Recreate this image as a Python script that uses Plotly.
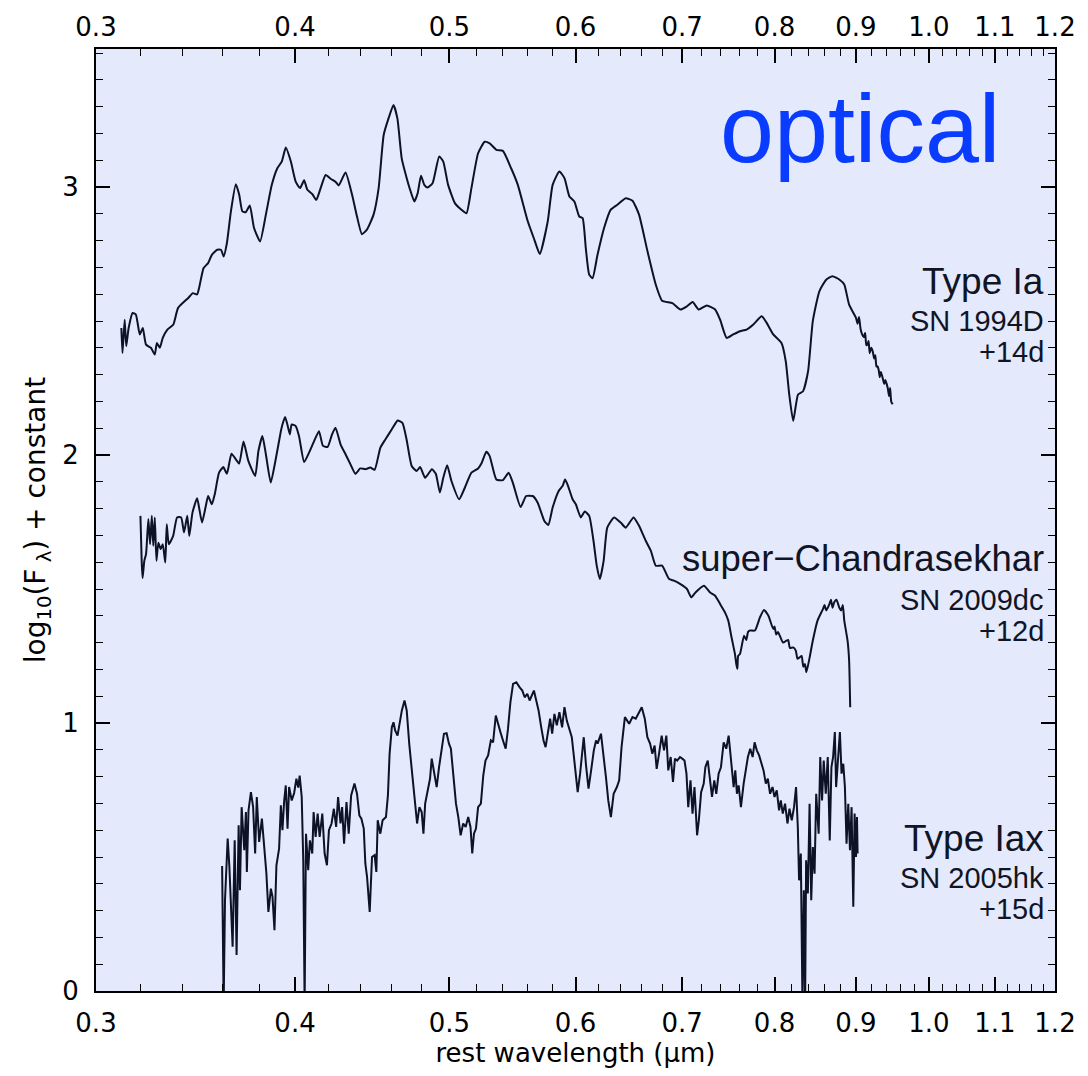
import math
import plotly.graph_objects as go

# ---- Type Ia, SN 1994D (+14d): rest wavelength (micron), log10 flux + offset ----
ia_wl = [0.3112, 0.3117, 0.3127, 0.3134, 0.3145, 0.3163, 0.3178, 0.3196, 0.3210, 0.3225,
         0.3248, 0.3266, 0.3276, 0.3290, 0.3304, 0.3326, 0.3355, 0.3378, 0.3428, 0.3451,
         0.3472, 0.3482, 0.3505, 0.3528, 0.3547, 0.3575, 0.3594, 0.3608, 0.3625, 0.3646,
         0.3672, 0.3690, 0.3707, 0.3725, 0.3747, 0.3770, 0.3803, 0.3835, 0.3868, 0.3899,
         0.3924, 0.3947, 0.3976, 0.4004, 0.4029, 0.4053, 0.4072, 0.4102, 0.4125, 0.4151,
         0.4181, 0.4211, 0.4241, 0.4261, 0.4303, 0.4344, 0.4375, 0.4406, 0.4438, 0.4481,
         0.4514, 0.4547, 0.4579, 0.4612, 0.4638, 0.4667, 0.4701, 0.4724, 0.4753, 0.4776,
         0.4799, 0.4822, 0.4845, 0.4880, 0.4927, 0.4956, 0.4991, 0.5040, 0.5088, 0.5125,
         0.5162, 0.5212, 0.5262, 0.5300, 0.5351, 0.5402, 0.5467, 0.5520, 0.5600, 0.5654,
         0.5698, 0.5764, 0.5805, 0.5862, 0.5905, 0.5947, 0.5990, 0.6033, 0.6062, 0.6090,
         0.6120, 0.6150, 0.6194, 0.6253, 0.6312, 0.6374, 0.6452, 0.6515, 0.6577, 0.6658,
         0.6738, 0.6800, 0.6902, 0.6983, 0.7049, 0.7107, 0.7169, 0.7255, 0.7342, 0.7395,
         0.7465, 0.7537, 0.7611, 0.7684, 0.7759, 0.7853, 0.7910, 0.7985, 0.8081, 0.8131,
         0.8172, 0.8219, 0.8277, 0.8337, 0.8398, 0.8455, 0.8536, 0.8620, 0.8698, 0.8789,
         0.8849, 0.8911, 0.9001, 0.9020, 0.9040, 0.9060, 0.9080, 0.9100, 0.9120, 0.9135,
         0.9149, 0.9165, 0.9180, 0.9200, 0.9220, 0.9240, 0.9255, 0.9270, 0.9285, 0.9300,
         0.9315, 0.9330, 0.9353, 0.9375, 0.9390, 0.9422, 0.9440, 0.9455, 0.9470, 0.9490]
ia_flux = [2.474, 2.381, 2.505, 2.406, 2.474, 2.530, 2.524, 2.450, 2.474, 2.412,
           2.400, 2.375, 2.418, 2.400, 2.437, 2.468, 2.487, 2.549, 2.586, 2.604,
           2.599, 2.623, 2.698, 2.716, 2.747, 2.766, 2.766, 2.741, 2.791, 2.909,
           3.010, 2.971, 2.909, 2.906, 2.931, 2.847, 2.797, 2.897, 3.008, 3.070,
           3.095, 3.147, 3.095, 3.020, 2.996, 3.025, 2.990, 2.973, 2.952, 2.996,
           3.045, 3.031, 3.020, 3.006, 3.054, 2.971, 2.890, 2.824, 2.841, 2.897,
           2.996, 3.194, 3.256, 3.306, 3.256, 3.107, 3.033, 2.990, 2.946, 2.977,
           3.042, 3.008, 2.998, 3.014, 3.114, 3.095, 3.008, 2.940, 2.915, 2.902,
           2.996, 3.126, 3.169, 3.163, 3.139, 3.135, 3.070, 3.008, 2.872, 2.803,
           2.750, 2.872, 3.008, 3.058, 3.033, 2.965, 2.946, 2.890, 2.884, 2.772,
           2.673, 2.660, 2.747, 2.847, 2.915, 2.934, 2.958, 2.949, 2.897, 2.760,
           2.636, 2.576, 2.567, 2.543, 2.555, 2.571, 2.543, 2.558, 2.543, 2.505,
           2.437, 2.450, 2.462, 2.468, 2.487, 2.518, 2.493, 2.450, 2.418, 2.350,
           2.226, 2.127, 2.226, 2.238, 2.313, 2.499, 2.611, 2.654, 2.667, 2.654,
           2.636, 2.561, 2.511, 2.490, 2.515, 2.470, 2.450, 2.440, 2.455, 2.410,
           2.412, 2.425, 2.380, 2.400, 2.387, 2.360, 2.372, 2.330, 2.331, 2.318,
           2.290, 2.310, 2.288, 2.265, 2.280, 2.251, 2.220, 2.250, 2.200, 2.189]

# ---- super-Chandrasekhar, SN 2009dc (+12d) ----
sc_wl = [0.3199, 0.3205, 0.3209, 0.3217, 0.3225, 0.3236, 0.3244, 0.3252, 0.3259, 0.3266,
         0.3274, 0.3283, 0.3294, 0.3304, 0.3316, 0.3323, 0.3333, 0.3354, 0.3373, 0.3393,
         0.3407, 0.3423, 0.3433, 0.3449, 0.3472, 0.3482, 0.3497, 0.3515, 0.3528, 0.3547,
         0.3562, 0.3584, 0.3606, 0.3625, 0.3649, 0.3672, 0.3690, 0.3713, 0.3739, 0.3776,
         0.3794, 0.3816, 0.3835, 0.3862, 0.3890, 0.3919, 0.3928, 0.3943, 0.3956, 0.3970,
         0.3981, 0.4004, 0.4023, 0.4053, 0.4082, 0.4112, 0.4141, 0.4165, 0.4193, 0.4220,
         0.4241, 0.4272, 0.4303, 0.4334, 0.4365, 0.4396, 0.4428, 0.4460, 0.4488, 0.4525,
         0.4558, 0.4601, 0.4640, 0.4672, 0.4700, 0.4735, 0.4769, 0.4793, 0.4828, 0.4875,
         0.4903, 0.4932, 0.4956, 0.4984, 0.5015, 0.5071, 0.5113, 0.5162, 0.5212, 0.5237,
         0.5274, 0.5300, 0.5351, 0.5402, 0.5447, 0.5480, 0.5542, 0.5587, 0.5640, 0.5681,
         0.5736, 0.5769, 0.5805, 0.5856, 0.5890, 0.5910, 0.5933, 0.5975, 0.6003, 0.6046,
         0.6081, 0.6120, 0.6158, 0.6187, 0.6215, 0.6249, 0.6282, 0.6344, 0.6405, 0.6452,
         0.6525, 0.6577, 0.6641, 0.6691, 0.6738, 0.6800, 0.6869, 0.6918, 0.6983, 0.7049,
         0.7093, 0.7136, 0.7224, 0.7289, 0.7342, 0.7395, 0.7447, 0.7483, 0.7518, 0.7555,
         0.7570, 0.7582, 0.7590, 0.7611, 0.7655, 0.7680, 0.7700, 0.7721, 0.7777, 0.7833,
         0.7879, 0.7930, 0.7985, 0.8000, 0.8020, 0.8040, 0.8061, 0.8100, 0.8138, 0.8160,
         0.8180, 0.8219, 0.8250, 0.8270, 0.8296, 0.8320, 0.8340, 0.8360, 0.8377, 0.8417,
         0.8455, 0.8513, 0.8580, 0.8600, 0.8620, 0.8661, 0.8680, 0.8700, 0.8720, 0.8750,
         0.8785, 0.8810, 0.8830, 0.8849, 0.8891, 0.8911, 0.8925]
sc_flux = [1.773, 1.599, 1.541, 1.605, 1.630, 1.761, 1.667, 1.773, 1.661, 1.767,
           1.605, 1.673, 1.649, 1.667, 1.599, 1.742, 1.667, 1.698, 1.767, 1.767,
           1.711, 1.773, 1.698, 1.785, 1.839, 1.804, 1.748, 1.806, 1.847, 1.816,
           1.854, 1.934, 1.955, 1.930, 2.005, 1.984, 1.968, 2.050, 1.978, 1.922,
           2.015, 2.071, 2.003, 1.897, 1.984, 2.089, 2.114, 2.142, 2.114, 2.077,
           2.114, 2.108, 2.071, 1.974, 2.009, 2.052, 2.089, 2.034, 2.030, 2.077,
           2.102, 2.040, 2.003, 1.965, 1.930, 1.950, 1.947, 1.953, 1.945, 2.027,
           2.058, 2.096, 2.129, 2.120, 2.058, 1.959, 1.940, 1.955, 1.915, 1.947,
           1.930, 1.860, 1.915, 1.962, 1.903, 1.835, 1.878, 1.934, 1.950, 1.968,
           2.012, 1.996, 1.909, 1.906, 1.934, 1.897, 1.806, 1.847, 1.847, 1.822,
           1.754, 1.739, 1.804, 1.866, 1.885, 1.909, 1.888, 1.835, 1.816, 1.767,
           1.789, 1.773, 1.680, 1.587, 1.537, 1.605, 1.729, 1.767, 1.748, 1.729,
           1.767, 1.736, 1.680, 1.642, 1.587, 1.587, 1.537, 1.531, 1.518, 1.500,
           1.469, 1.487, 1.512, 1.487, 1.475, 1.444, 1.413, 1.382, 1.320, 1.258,
           1.220, 1.202, 1.250, 1.258, 1.326, 1.310, 1.340, 1.345, 1.345, 1.394,
           1.422, 1.400, 1.351, 1.360, 1.330, 1.340, 1.326, 1.300, 1.307, 1.310,
           1.280, 1.282, 1.270, 1.240, 1.245, 1.250, 1.210, 1.220, 1.189, 1.245,
           1.307, 1.382, 1.425, 1.440, 1.420, 1.444, 1.460, 1.430, 1.450, 1.460,
           1.431, 1.420, 1.440, 1.382, 1.307, 1.233, 1.059]

# ---- Type Iax, SN 2005hk (+15d) ----
iax_wl = [0.3600, 0.3608, 0.3615, 0.3629, 0.3638, 0.3655, 0.3666, 0.3676, 0.3687, 0.3694,
          0.3703, 0.3717, 0.3726, 0.3731, 0.3740, 0.3753, 0.3765, 0.3776, 0.3785, 0.3798,
          0.3813, 0.3826, 0.3838, 0.3849, 0.3863, 0.3872, 0.3883, 0.3894, 0.3909, 0.3919,
          0.3928, 0.3938, 0.3947, 0.3957, 0.3966, 0.3981, 0.3995, 0.4008, 0.4019, 0.4027,
          0.4039, 0.4048, 0.4056, 0.4064, 0.4077, 0.4087, 0.4101, 0.4109, 0.4121, 0.4133,
          0.4145, 0.4161, 0.4175, 0.4189, 0.4201, 0.4217, 0.4231, 0.4245, 0.4257, 0.4272,
          0.4282, 0.4294, 0.4309, 0.4323, 0.4338, 0.4359, 0.4375, 0.4390, 0.4403, 0.4418,
          0.4428, 0.4439, 0.4456, 0.4471, 0.4488, 0.4499, 0.4508, 0.4525, 0.4540, 0.4562,
          0.4575, 0.4586, 0.4601, 0.4612, 0.4623, 0.4639, 0.4652, 0.4668, 0.4686, 0.4701,
          0.4718, 0.4735, 0.4754, 0.4772, 0.4788, 0.4804, 0.4816, 0.4828, 0.4846, 0.4862,
          0.4874, 0.4893, 0.4909, 0.4926, 0.4944, 0.4961, 0.4980, 0.4997, 0.5011, 0.5028,
          0.5048, 0.5065, 0.5082, 0.5101, 0.5119, 0.5138, 0.5155, 0.5168, 0.5181, 0.5196,
          0.5212, 0.5233, 0.5251, 0.5268, 0.5288, 0.5309, 0.5326, 0.5347, 0.5365, 0.5383,
          0.5403, 0.5424, 0.5442, 0.5461, 0.5482, 0.5508, 0.5535, 0.5556, 0.5575, 0.5596,
          0.5615, 0.5634, 0.5650, 0.5669, 0.5688, 0.5710, 0.5729, 0.5746, 0.5765, 0.5784,
          0.5801, 0.5820, 0.5840, 0.5862, 0.5885, 0.5905, 0.5925, 0.5948, 0.5968, 0.5985,
          0.6005, 0.6019, 0.6040, 0.6057, 0.6072, 0.6092, 0.6114, 0.6137, 0.6161, 0.6181,
          0.6195, 0.6225, 0.6240, 0.6270, 0.6291, 0.6315, 0.6340, 0.6370, 0.6391, 0.6413,
          0.6444, 0.6484, 0.6515, 0.6546, 0.6578, 0.6603, 0.6632, 0.6657, 0.6683, 0.6705,
          0.6727, 0.6747, 0.6770, 0.6796, 0.6819, 0.6842, 0.6861, 0.6885, 0.6908, 0.6928,
          0.6950, 0.6978, 0.7001, 0.7024, 0.7044, 0.7062, 0.7085, 0.7106, 0.7126, 0.7153,
          0.7171, 0.7195, 0.7222, 0.7239, 0.7264, 0.7285, 0.7309, 0.7333, 0.7354, 0.7379,
          0.7404, 0.7433, 0.7461, 0.7487, 0.7504, 0.7523, 0.7541, 0.7559, 0.7577, 0.7596,
          0.7621, 0.7651, 0.7676, 0.7698, 0.7724, 0.7751, 0.7773, 0.7798, 0.7824, 0.7847,
          0.7874, 0.7900, 0.7923, 0.7949, 0.7977, 0.8000, 0.8026, 0.8053, 0.8073, 0.8096,
          0.8123, 0.8151, 0.8175, 0.8202, 0.8229, 0.8253, 0.8274, 0.8289, 0.8310, 0.8330,
          0.8346, 0.8362, 0.8374, 0.8395, 0.8416, 0.8436, 0.8456, 0.8477, 0.8497, 0.8527,
          0.8547, 0.8569, 0.8590, 0.8615, 0.8640, 0.8665, 0.8686, 0.8707, 0.8729, 0.8745,
          0.8768, 0.8793, 0.8814, 0.8836, 0.8857, 0.8878, 0.8900, 0.8922, 0.8943, 0.8965,
          0.8982, 0.9000, 0.9013, 0.9021]
iax_flux = [0.466, -0.050, 0.339, 0.569, 0.463, 0.165, 0.562, 0.134, 0.618, 0.376,
            0.686, 0.525, 0.668, 0.444, 0.674, 0.742, 0.686, 0.513, 0.724, 0.556,
            0.643, 0.537, 0.438, 0.295, 0.382, 0.351, 0.227, 0.469, 0.531, 0.693,
            0.600, 0.711, 0.767, 0.606, 0.761, 0.711, 0.739, 0.792, 0.759, 0.804,
            0.724, 0.488, -0.050, 0.587, 0.451, 0.562, 0.513, 0.668, 0.575, 0.662,
            0.575, 0.662, 0.513, 0.469, 0.600, 0.625, 0.680, 0.612, 0.724, 0.625,
            0.686, 0.550, 0.705, 0.587, 0.730, 0.774, 0.736, 0.655, 0.643, 0.606,
            0.476, 0.426, 0.295, 0.500, 0.507, 0.444, 0.637, 0.587, 0.637, 0.649,
            0.730, 0.885, 0.984, 1.003, 0.972, 0.953, 0.997, 1.047, 1.084, 1.047,
            0.923, 0.817, 0.724, 0.625, 0.686, 0.668, 0.587, 0.699, 0.755, 0.792,
            0.867, 0.804, 0.761, 0.835, 0.910, 0.960, 0.962, 0.923, 0.904, 0.798,
            0.699, 0.649, 0.581, 0.625, 0.612, 0.649, 0.612, 0.513, 0.587, 0.606,
            0.686, 0.699, 0.804, 0.860, 0.879, 0.935, 0.928, 1.028, 0.991, 0.966,
            0.935, 0.904, 0.978, 1.077, 1.146, 1.152, 1.133, 1.121, 1.096, 1.109,
            1.084, 1.102, 1.121, 1.084, 1.047, 0.984, 0.935, 0.910, 0.972, 1.016,
            0.960, 1.034, 0.991, 1.040, 0.984, 1.059, 1.009, 0.978, 0.947, 0.879,
            0.798, 0.742, 0.811, 0.873, 0.947, 0.842, 0.755, 0.823, 0.898, 0.935,
            0.923, 0.960, 0.910, 0.798, 0.711, 0.649, 0.736, 0.761, 0.786, 0.910,
            1.022, 0.997, 1.022, 1.016, 1.040, 1.059, 1.016, 0.947, 0.923, 0.885,
            0.916, 0.829, 0.885, 0.953, 0.898, 0.953, 0.823, 0.873, 0.780, 0.867,
            0.860, 0.873, 0.867, 0.860, 0.811, 0.686, 0.786, 0.662, 0.761, 0.581,
            0.637, 0.742, 0.774, 0.835, 0.860, 0.798, 0.724, 0.786, 0.736, 0.811,
            0.835, 0.928, 0.904, 0.953, 0.891, 0.811, 0.761, 0.823, 0.736, 0.767,
            0.686, 0.774, 0.835, 0.873, 0.904, 0.873, 0.928, 0.898, 0.879, 0.848,
            0.823, 0.774, 0.792, 0.736, 0.761, 0.724, 0.749, 0.674, 0.711, 0.662,
            0.699, 0.625, 0.680, 0.637, 0.686, 0.761, 0.612, 0.413, 0.513, -0.050,
            0.376, -0.050, 0.488, 0.364, 0.699, 0.339, 0.537, 0.438, 0.736, 0.587,
            0.873, 0.711, 0.860, 0.736, 0.873, 0.562, 0.835, 0.873, 0.966, 0.761,
            0.873, 0.966, 0.811, 0.848, 0.761, 0.550, 0.699, 0.525, 0.686, 0.314,
            0.662, 0.500, 0.649, 0.513]

# ---- axis ticks ----
x_major = [0.3, 0.4, 0.5, 0.6, 0.7, 0.8, 0.9, 1.0, 1.1, 1.2]
x_major_text = ["0.3", "0.4", "0.5", "0.6", "0.7", "0.8", "0.9", "1.0", "1.1", "1.2"]
y_major = [0, 1, 2, 3]
y_major_text = ["0", "1", "2", "3"]

X_RANGE = (0.3, 1.2)
Y_RANGE = (0.0, 3.515)

LINE = "#0d1226"
INK = "#101526"
AXIS_FONT = "DejaVu Sans, Verdana, sans-serif"
LABEL_FONT = "Liberation Sans, Arial, Helvetica, sans-serif"

# minor ticks every 0.02 micron and every 0.1 dex
x_minor = [round(0.3 + 0.02 * k, 2) for k in range(46)]
x_minor = [v for v in x_minor if all(abs(v - m) > 1e-6 for m in x_major)]
y_minor = [round(0.1 * k, 1) for k in range(36) if k % 10]

fig = go.Figure()
# the two smoother spectra are drawn with light spline rounding, the noisy Iax one as is
for wl, fl, shape in ((ia_wl, ia_flux, "spline"), (sc_wl, sc_flux, "spline"),
                      (iax_wl, iax_flux, "linear")):
    line = dict(color=LINE, width=2.0, shape=shape)
    if shape == "spline":
        line["smoothing"] = 0.5
    fig.add_trace(go.Scatter(x=wl, y=fl, mode="lines", line=line,
                             showlegend=False, hoverinfo="skip"))
# carrier for the top wavelength axis
fig.add_trace(go.Scatter(x=[], y=[], xaxis="x2", showlegend=False, hoverinfo="skip"))

xr = [math.log10(X_RANGE[0]), math.log10(X_RANGE[1])]
common_x = dict(type="log", range=xr, tickmode="array", tickvals=x_major,
                ticktext=x_major_text, ticks="inside", ticklen=14, tickwidth=1.5,
                tickcolor="black", showgrid=False, zeroline=False,
                tickfont=dict(family=AXIS_FONT, size=26, color="black"),
                minor=dict(tickmode="array", tickvals=x_minor, ticks="inside",
                           ticklen=7, tickwidth=1.2, tickcolor="black", showgrid=False))

fig.update_layout(
    width=1088, height=1076,
    margin=dict(l=96, r=28, t=47, b=85),
    paper_bgcolor="white",
    plot_bgcolor="#e4e9fc",
    xaxis=dict(**common_x, showline=True, linecolor="black", linewidth=2, mirror=True,
               ticklabelstandoff=8,
               title=dict(text="rest wavelength (μm)",
                          font=dict(family=AXIS_FONT, size=26, color="black"),
                          standoff=4)),
    xaxis2=dict(**common_x, overlaying="x", side="top", showline=False,
                ticklabelstandoff=7),
    yaxis=dict(range=list(Y_RANGE), tickmode="array", tickvals=y_major,
               ticktext=y_major_text, ticks="inside", ticklen=14, tickwidth=1.5,
               tickcolor="black", showgrid=False, zeroline=False,
               showline=True, linecolor="black", linewidth=2, mirror="ticks",
               ticklabelstandoff=10,
               tickfont=dict(family=AXIS_FONT, size=26, color="black"),
               minor=dict(tickmode="array", tickvals=y_minor, ticks="inside",
                          ticklen=7, tickwidth=1.2, tickcolor="black", showgrid=False),
               title=dict(text="log<sub>10</sub>(F<sub> λ</sub>) + constant",
                          font=dict(family=AXIS_FONT, size=28, color="black"),
                          standoff=8)),
)

# panel tag
fig.add_annotation(text="optical", xref="paper", yref="paper", x=0.945, y=0.9153,
                   xanchor="right", yanchor="middle", showarrow=False,
                   font=dict(family=LABEL_FONT, size=97, color="#0a3cff"))

# spectrum labels: (text, vertical position in paper units, font size)
labels = [
    ("Type Ia", 0.7537, 37), ("SN 1994D", 0.7110, 29), ("+14d", 0.6785, 29),
    ("super\u2212Chandrasekhar", 0.4587, 36.5), ("SN 2009dc", 0.4150, 29), ("+12d", 0.3818, 29),
    ("Type Iax", 0.1621, 37), ("SN 2005hk", 0.1195, 29), ("+15d", 0.0870, 29),
]
for txt, yp, fs in labels:
    fig.add_annotation(text=txt, xref="paper", yref="paper", x=0.9903, y=yp,
                       xanchor="right", yanchor="middle", showarrow=False,
                       font=dict(family=LABEL_FONT, size=fs, color=INK))

fig.write_html("out.html")
